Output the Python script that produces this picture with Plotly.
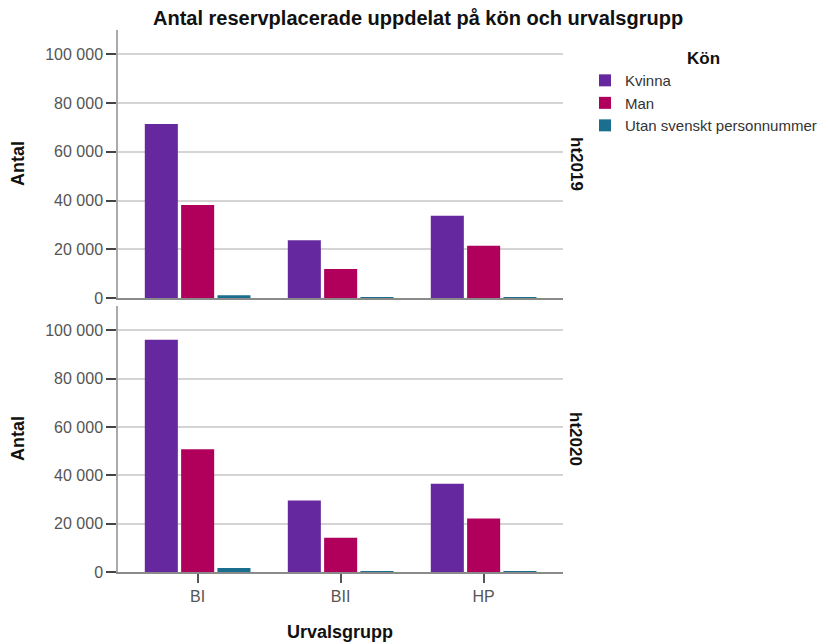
import plotly.graph_objects as go

categories = ["BI", "BII", "HP"]
series_names = ["Kvinna", "Man", "Utan svenskt personnummer"]
kvinna_2019 = [71400, 23700, 33800]
man_2019 = [38200, 11900, 21400]
utan_2019 = [1100, 150, 100]
kvinna_2020 = [96000, 29600, 36500]
man_2020 = [50800, 14200, 22100]
utan_2020 = [1700, 150, 100]
y_ticks = [0, 20000, 40000, 60000, 80000, 100000]
panel_labels = ["ht2019", "ht2020"]

colors = ["#66289f", "#b0005c", "#1a6e8e"]
FONT = "Liberation Sans, Arial, sans-serif"

fig = go.Figure()
top = [kvinna_2019, man_2019, utan_2019]
bot = [kvinna_2020, man_2020, utan_2020]
for i, name in enumerate(series_names):
    fig.add_trace(go.Bar(x=categories, y=top[i], name=name, marker_color=colors[i],
                         marker_line_width=0, xaxis="x2", yaxis="y2", legendgroup=name,
                         showlegend=True))
    fig.add_trace(go.Bar(x=categories, y=bot[i], name=name, marker_color=colors[i],
                         marker_line_width=0, xaxis="x", yaxis="y", legendgroup=name,
                         showlegend=False))

# page has an 8px body margin: figure is 820x636, screen px p -> figure px p-8
OFF = 8
W, H = 828 - OFF, 644 - OFF


def px(xs):
    return (xs - OFF) / W


def py(ys):
    return 1 - (ys - OFF) / H


xd = [px(118), px(563)]
ytop = [py(298), py(30)]
ybot = [py(572), py(306)]

yax = dict(range=[0, 110000], tickvals=y_ticks, tickformat=",d", showgrid=True,
           gridcolor="#d4d4d4", gridwidth=1.5, showline=True, linecolor="#aaaaaa",
           linewidth=1.5, ticks="outside", ticklen=10, tickcolor="#444444", tickwidth=1.5,
           tickfont=dict(family=FONT, size=16, color="#555555"), zeroline=False,
           fixedrange=True)
xax = dict(range=[-0.557, 2.555], showline=True, linecolor="#8a8a8a", linewidth=1.5,
           showgrid=False, zeroline=False, type="category")

fig.update_layout(
    width=W, height=H,
    margin=dict(l=0, r=0, t=0, b=0, autoexpand=False),
    paper_bgcolor="white", plot_bgcolor="white",
    separators=", ",
    barmode="group", bargap=0.238, bargroupgap=0.09,
    font=dict(family=FONT),
    xaxis=dict(domain=xd, anchor="y", ticks="outside", ticklen=9, tickcolor="#555555",
               tickwidth=1.5, tickfont=dict(family=FONT, size=16, color="#555555"), **xax),
    xaxis2=dict(domain=xd, anchor="y2", showticklabels=False, ticks="", matches="x", **xax),
    yaxis=dict(domain=ybot, anchor="x", **yax),
    yaxis2=dict(domain=ytop, anchor="x2", **yax),
    legend=dict(x=px(585), y=py(42), xanchor="left", yanchor="top",
                font=dict(family=FONT, size=15, color="#333333"),
                title=dict(text="<b>Kön</b>", side="top center",
                           font=dict(family=FONT, size=17, color="#111111")),
                itemwidth=30, tracegroupgap=0, bgcolor="rgba(0,0,0,0)"),
    showlegend=True,
)

ann = []
ann.append(dict(text="<b>Antal reservplacerade uppdelat på kön och urvalsgrupp</b>",
                x=px(418), y=py(18), xref="paper", yref="paper", showarrow=False,
                xanchor="center", yanchor="middle",
                font=dict(family=FONT, size=20, color="#111111")))
for yc in [(30 + 298) / 2, (306 + 572) / 2]:
    ann.append(dict(text="<b>Antal</b>", x=px(18), y=py(yc), xref="paper", yref="paper",
                    showarrow=False, textangle=-90, xanchor="center", yanchor="middle",
                    font=dict(family=FONT, size=18, color="#111111")))
for lbl, yc in zip(panel_labels, [(30 + 298) / 2, (306 + 572) / 2]):
    ann.append(dict(text="<b>" + lbl + "</b>", x=px(576), y=py(yc), xref="paper", yref="paper",
                    showarrow=False, textangle=90, xanchor="center", yanchor="middle",
                    font=dict(family=FONT, size=17, color="#111111")))
ann.append(dict(text="<b>Urvalsgrupp</b>", x=px(340), y=py(632), xref="paper", yref="paper",
                showarrow=False, xanchor="center", yanchor="middle",
                font=dict(family=FONT, size=18, color="#111111")))
fig.update_layout(annotations=ann)

fig.write_html("out.html")
